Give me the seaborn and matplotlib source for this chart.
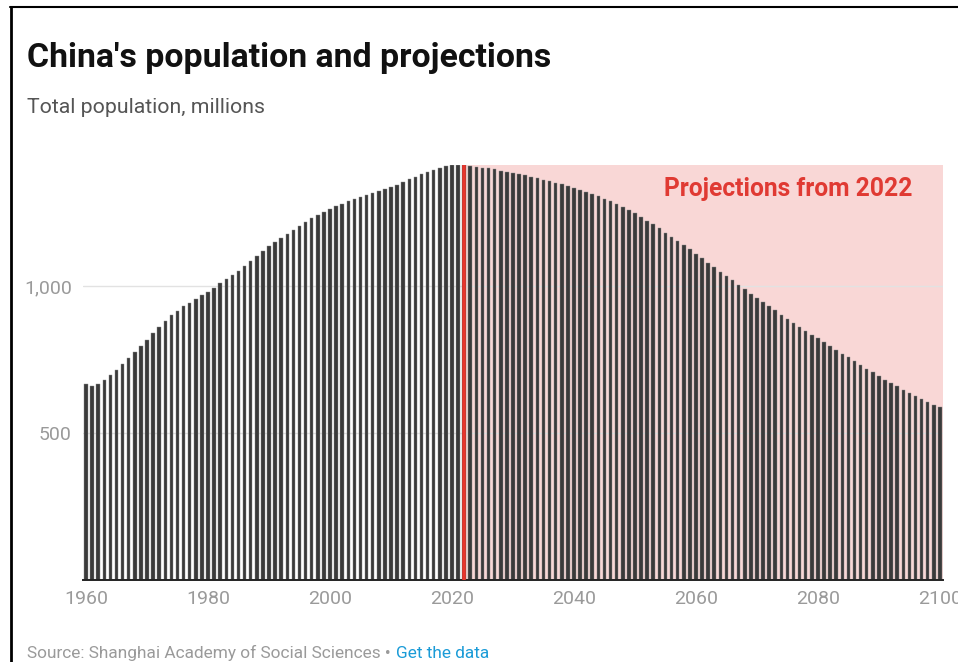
import matplotlib.pyplot as plt
import matplotlib.lines as mlines
import pandas as pd
import seaborn as sns

# total population, millions
years_hist = list(range(1960, 2022))
pop_hist = [667, 660, 666, 682, 698, 715, 735, 755, 775, 796,
            818, 841, 862, 882, 900, 916, 931, 943, 956, 969,
            981, 994, 1009, 1023, 1037, 1051, 1067, 1084, 1102, 1119,
            1135, 1151, 1165, 1178, 1192, 1205, 1218, 1230, 1242, 1253,
            1263, 1272, 1280, 1288, 1296, 1304, 1311, 1318, 1325, 1331,
            1338, 1345, 1354, 1363, 1372, 1380, 1388, 1396, 1402, 1408,
            1411, 1412]
years_proj = list(range(2022, 2101))
pop_proj = [1412, 1409, 1406, 1403, 1400, 1397, 1393, 1389, 1385, 1381,
            1377, 1372, 1367, 1362, 1357, 1352, 1346, 1340, 1334, 1327,
            1320, 1313, 1305, 1297, 1288, 1279, 1269, 1259, 1248, 1236,
            1223, 1210, 1196, 1182, 1168, 1154, 1140, 1125, 1110, 1095,
            1080, 1065, 1049, 1034, 1019, 1004, 989, 974, 959, 945,
            931, 917, 903, 889, 876, 862, 848, 835, 822, 809,
            796, 783, 770, 757, 744, 731, 718, 706, 694, 682,
            670, 659, 648, 637, 627, 617, 607, 597, 588]
proj_start = 2022
xticks = [1960, 1980, 2000, 2020, 2040, 2060, 2080, 2100]
yticks = [500, 1000]

sns.set_style("white")
plt.rcParams['font.family'] = ['Roboto', 'DejaVu Sans']

df = pd.DataFrame({'year': years_hist + years_proj, 'population': pop_hist + pop_proj})

fig = plt.figure(figsize=(9.58, 6.62), dpi=100)
ax = fig.add_axes([0.0866, 0.1239, 0.8977, 0.6269])

ax.axvspan(proj_start, years_proj[-1] + 0.5, color='#f9d7d6', lw=0, zorder=0)
sns.barplot(data=df, x='year', y='population', native_scale=True, width=0.58,
            color='#3a3a3a', edgecolor='#8a8a8a', linewidth=0.3, saturation=1,
            errorbar=None, ax=ax, zorder=2)
ax.axvline(proj_start, color='#e8352d', lw=2.6, zorder=3)

ax.set_xlim(years_hist[0] - 0.5, years_proj[-1] + 0.5)
ax.set_ylim(0, max(pop_hist))
ax.set_xticks(xticks)
ax.set_xticklabels([str(x) for x in xticks])
ax.set_yticks(yticks)
ax.set_yticklabels([f'{v:,}' for v in yticks])
ax.set_xlabel('')
ax.set_ylabel('')
ax.set_axisbelow(True)
ax.yaxis.grid(True, color='#e2e2e2', lw=1)
for s in ['top', 'right', 'left']:
    ax.spines[s].set_visible(False)
ax.spines['bottom'].set_color('#222222')
ax.spines['bottom'].set_linewidth(1.4)
ax.tick_params(axis='both', length=0, labelsize=14, labelcolor='#9a9a9a')
ax.tick_params(axis='x', pad=7)
ax.tick_params(axis='y', pad=8)

ax.text(0.965, 0.942, 'Projections from 2022', transform=ax.transAxes,
        ha='right', va='center', fontsize=17.7, fontweight='bold', color='#e03a33')

fig.text(27 / 958, 1 - 67 / 662, "China's population and projections",
         fontsize=24.4, fontweight='bold', color='#111111', va='baseline')
fig.text(27 / 958, 1 - 113 / 662, 'Total population, millions',
         fontsize=15.3, color='#555555', va='baseline')
src = fig.text(27 / 958, 4 / 662, 'Source: Shanghai Academy of Social Sciences \u2022',
               fontsize=12.4, color='#9a9a9a', va='baseline')
ax.annotate('Get the data', xy=(1, 0), xycoords=src, xytext=(4, 0),
            textcoords='offset points', va='bottom', fontsize=12.4,
            color='#1a9bd7', annotation_clip=False)

# screenshot frame on the left and top
fig.add_artist(mlines.Line2D([10.5 / 958, 10.5 / 958], [0, 1 - 7 / 662],
                             color='black', lw=2, transform=fig.transFigure))
fig.add_artist(mlines.Line2D([10 / 958, 1], [1 - 7 / 662, 1 - 7 / 662],
                             color='black', lw=1.5, transform=fig.transFigure))

plt.savefig('out.png', dpi=100)
